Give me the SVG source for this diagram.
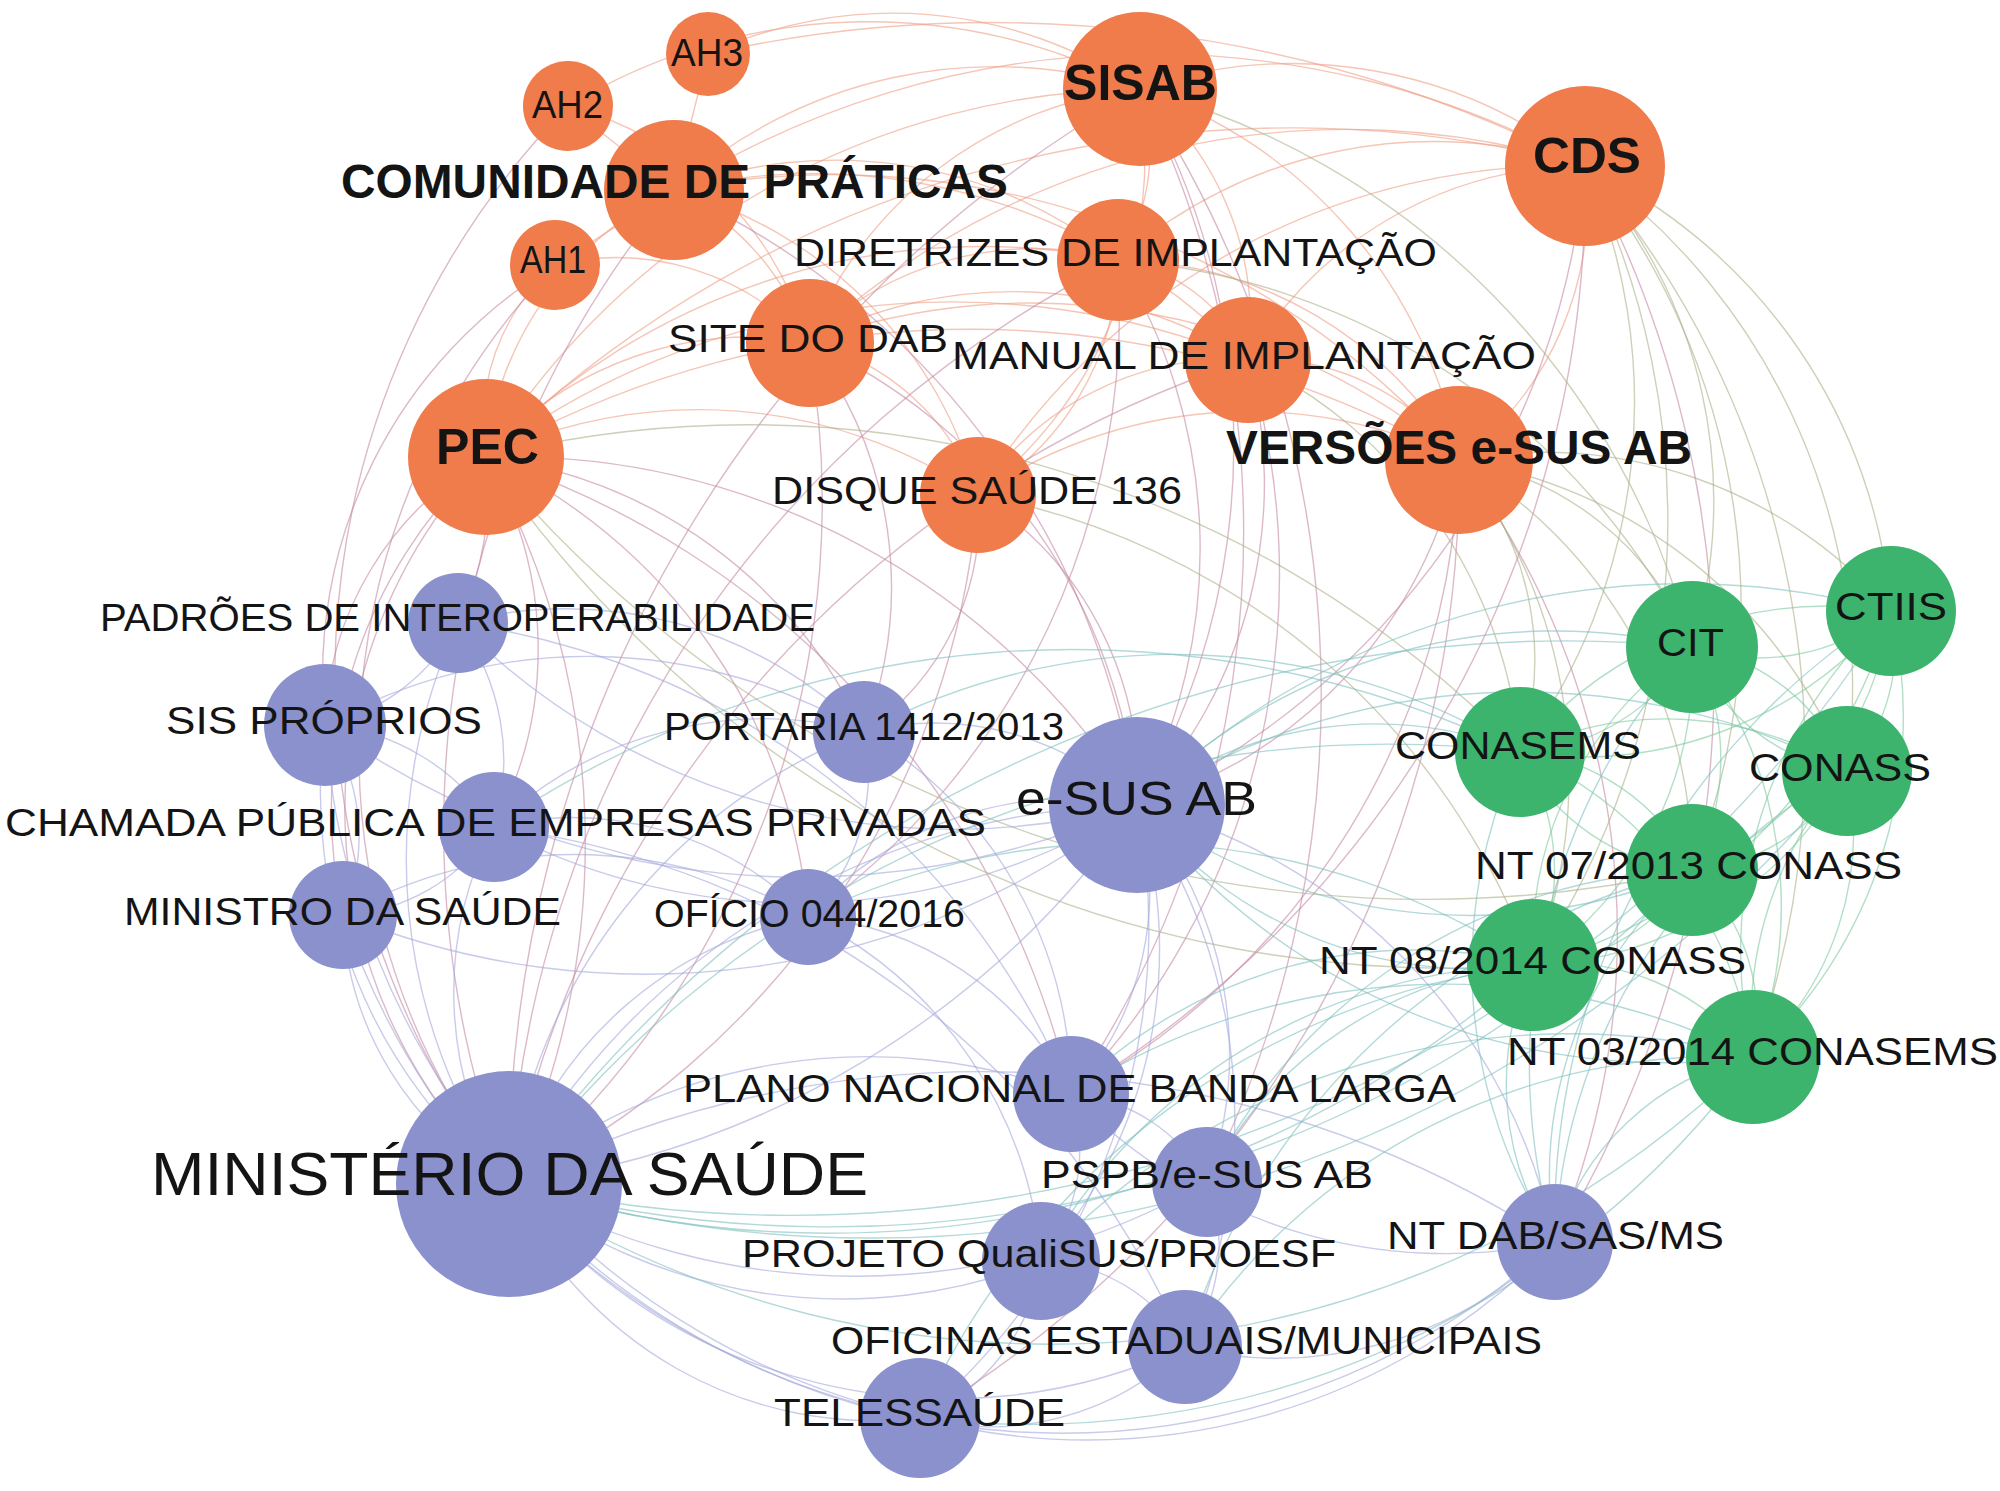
<svg xmlns="http://www.w3.org/2000/svg" width="2000" height="1491" viewBox="0 0 2000 1491">
<style>
.bg{fill:#ffffff}
.e{fill:none;stroke-width:1.4;stroke-opacity:0.6}
.eo{stroke:#ee9f86}
.eob{stroke:#c58aa5}
.eog{stroke:#aeb08a}
.eb{stroke:#a3a8da}
.ebg{stroke:#80c0c0}
.eg{stroke:#7fcaa0}
.no{fill:#f07b4b}
.nb{fill:#8a91cc}
.ng{fill:#3cb46e}
text{font-family:"Liberation Sans",Arial,Helvetica,sans-serif;fill:#141414}
.t{font-size:39px}
.tb{font-size:48px;font-weight:bold}
.tB{font-size:50px;font-weight:bold}
</style>
<rect class="bg" x="0" y="0" width="2000" height="1491"/>
<g id="edges">
<path class="e eo" d="M674 190 A480 480 0 0 1 1140 89"/>
<path class="e eo" d="M674 190 A900 900 0 0 1 1585 166"/>
<path class="e eo" d="M674 190 A450 450 0 0 1 1118 260"/>
<path class="e eo" d="M674 190 A600 600 0 0 1 1248 360"/>
<path class="e eo" d="M674 190 A830 830 0 0 1 1459 460"/>
<path class="e eo" d="M674 190 A260 260 0 0 1 808 342"/>
<path class="e eo" d="M486 457 A330 330 0 0 1 674 190"/>
<path class="e eo" d="M674 190 A430 430 0 0 1 978 495"/>
<path class="e eo" d="M555 265 L674 190"/>
<path class="e eo" d="M568 106 L674 190"/>
<path class="e eo" d="M708 54 L674 190"/>
<path class="e eo" d="M1140 89 A470 470 0 0 1 1585 166"/>
<path class="e eo" d="M1140 89 A200 200 0 0 1 1118 260"/>
<path class="e eo" d="M1140 89 A300 300 0 0 1 1248 360"/>
<path class="e eo" d="M1140 89 A480 480 0 0 1 1459 460"/>
<path class="e eo" d="M808 342 A400 400 0 0 1 1140 89"/>
<path class="e eo" d="M486 457 A780 780 0 0 1 1140 89"/>
<path class="e eo" d="M1140 89 A430 430 0 0 1 978 495"/>
<path class="e eo" d="M1118 260 A480 480 0 0 1 1585 166"/>
<path class="e eo" d="M1248 360 A390 390 0 0 1 1585 166"/>
<path class="e eo" d="M1585 166 A320 320 0 0 1 1459 460"/>
<path class="e eo" d="M808 342 A790 790 0 0 1 1585 166"/>
<path class="e eo" d="M486 457 A1150 1150 0 0 1 1585 166"/>
<path class="e eo" d="M978 495 A690 690 0 0 1 1585 166"/>
<path class="e eo" d="M1118 260 A170 170 0 0 1 1248 360"/>
<path class="e eo" d="M808 342 A320 320 0 0 1 1118 260"/>
<path class="e eo" d="M486 457 A690 690 0 0 1 1118 260"/>
<path class="e eo" d="M1118 260 A400 400 0 0 1 1459 460"/>
<path class="e eo" d="M808 342 A440 440 0 0 1 1248 360"/>
<path class="e eo" d="M486 457 A780 780 0 0 1 1248 360"/>
<path class="e eo" d="M1248 360 A240 240 0 0 1 1459 460"/>
<path class="e eo" d="M978 495 A300 300 0 0 1 1248 360"/>
<path class="e eo" d="M808 342 A660 660 0 0 1 1459 460"/>
<path class="e eo" d="M486 457 A980 980 0 0 1 1459 460"/>
<path class="e eo" d="M978 495 A480 480 0 0 1 1459 460"/>
<path class="e eo" d="M486 457 A350 350 0 0 1 808 342"/>
<path class="e eo" d="M808 342 A240 240 0 0 1 978 495"/>
<path class="e eo" d="M486 457 A500 500 0 0 1 978 495"/>
<path class="e eo" d="M555 265 A210 210 0 0 0 486 457"/>
<path class="e eo" d="M568 106 A580 580 0 0 1 1140 89"/>
<path class="e eo" d="M708 54 A440 440 0 0 1 1140 89"/>
<path class="e eo" d="M555 265 A260 260 0 0 1 808 342"/>
<path class="e eo" d="M708 54 A1300 1300 0 0 1 1585 166"/>
<path class="e eo" d="M568 106 A340 340 0 0 1 808 342"/>
<path class="e eo" d="M1118 260 A275 275 0 0 1 978 495"/>
<path class="e eob" d="M486 457 A740 740 0 0 1 1137 805"/>
<path class="e eob" d="M509 1184 A510 510 0 0 1 486 457"/>
<path class="e eob" d="M486 457 A300 300 0 0 1 458 623"/>
<path class="e eob" d="M325 725 A320 320 0 0 1 486 457"/>
<path class="e eob" d="M486 457 A380 380 0 0 1 494 827"/>
<path class="e eob" d="M343 915 A480 480 0 0 1 486 457"/>
<path class="e eob" d="M486 457 A480 480 0 0 1 864 732"/>
<path class="e eob" d="M1140 89 A720 720 0 0 1 1137 805"/>
<path class="e eob" d="M1585 166 A780 780 0 0 1 1137 805"/>
<path class="e eob" d="M1459 460 A460 460 0 0 1 1137 805"/>
<path class="e eob" d="M1118 260 A550 550 0 0 1 1137 805"/>
<path class="e eob" d="M1248 360 A470 470 0 0 1 1137 805"/>
<path class="e eob" d="M808 342 A560 560 0 0 1 1137 805"/>
<path class="e eob" d="M978 495 A340 340 0 0 1 1137 805"/>
<path class="e eob" d="M509 1184 A1000 1000 0 0 1 674 190"/>
<path class="e eob" d="M509 1184 A1250 1250 0 0 1 1140 89"/>
<path class="e eob" d="M509 1184 A1100 1100 0 0 1 1118 260"/>
<path class="e eob" d="M808 342 A400 400 0 0 1 864 732"/>
<path class="e eob" d="M978 495 A260 260 0 0 1 864 732"/>
<path class="e eob" d="M1248 360 A750 750 0 0 1 1071 1094"/>
<path class="e eob" d="M1140 89 A1000 1000 0 0 1 1071 1094"/>
<path class="e eob" d="M1585 166 A1080 1080 0 0 1 1555 1242"/>
<path class="e eob" d="M1459 460 A790 790 0 0 1 1555 1242"/>
<path class="e eob" d="M1118 260 A750 750 0 0 1 808 917"/>
<path class="e eob" d="M325 725 A480 480 0 0 1 555 265"/>
<path class="e eob" d="M674 190 A800 800 0 0 1 1137 805"/>
<path class="e eob" d="M1140 89 A1100 1100 0 0 1 1207 1182"/>
<path class="e eob" d="M509 1184 A1100 1100 0 0 1 1248 360"/>
<path class="e eob" d="M509 1184 A700 700 0 0 1 555 265"/>
<path class="e eob" d="M509 1184 A820 820 0 0 1 568 106"/>
<path class="e eob" d="M486 457 A800 800 0 0 1 509 1184"/>
<path class="e eob" d="M978 495 A840 840 0 0 1 509 1184"/>
<path class="e eob" d="M486 457 A560 560 0 0 1 808 917"/>
<path class="e eob" d="M486 457 A880 880 0 0 1 1071 1094"/>
<path class="e eob" d="M808 342 A900 900 0 0 1 509 1184"/>
<path class="e eob" d="M1585 166 A1060 1060 0 0 1 1071 1094"/>
<path class="e eob" d="M1459 460 A745 745 0 0 1 1071 1094"/>
<path class="e eob" d="M1459 460 A1100 1100 0 0 1 920 1418"/>
<path class="e eog" d="M1585 166 A500 500 0 0 1 1692 647"/>
<path class="e eog" d="M1585 166 A540 540 0 0 1 1891 611"/>
<path class="e eog" d="M1585 166 A590 590 0 0 1 1520 752"/>
<path class="e eog" d="M1585 166 A640 640 0 0 1 1847 771"/>
<path class="e eog" d="M1459 460 A300 300 0 0 1 1692 647"/>
<path class="e eog" d="M1459 460 A300 300 0 0 1 1520 752"/>
<path class="e eog" d="M1459 460 A470 470 0 0 1 1692 870"/>
<path class="e eog" d="M1140 89 A780 780 0 0 1 1692 647"/>
<path class="e eog" d="M1248 360 A480 480 0 0 1 1520 752"/>
<path class="e eog" d="M1533 965 A1160 1160 0 0 1 486 457"/>
<path class="e eog" d="M486 457 A1075 1075 0 0 1 1520 752"/>
<path class="e eog" d="M1585 166 A900 900 0 0 1 1753 1057"/>
<path class="e eog" d="M1118 260 A700 700 0 0 1 1692 647"/>
<path class="e eog" d="M978 495 A730 730 0 0 1 1533 965"/>
<path class="e eog" d="M1585 166 A710 710 0 0 1 1692 870"/>
<path class="e eog" d="M1692 870 A1220 1220 0 0 1 486 457"/>
<path class="e eog" d="M1585 166 A800 800 0 0 1 1533 965"/>
<path class="e eog" d="M1459 460 A510 510 0 0 1 1533 965"/>
<path class="e eog" d="M1459 460 A500 500 0 0 1 1847 771"/>
<path class="e eog" d="M1459 460 A460 460 0 0 1 1891 611"/>
<path class="e eb" d="M509 1184 A565 565 0 0 1 458 623"/>
<path class="e eb" d="M509 1184 A500 500 0 0 1 325 725"/>
<path class="e eb" d="M509 1184 A360 360 0 0 1 494 827"/>
<path class="e eb" d="M509 1184 A320 320 0 0 1 343 915"/>
<path class="e eb" d="M509 1184 A560 560 0 0 1 864 732"/>
<path class="e eb" d="M509 1184 A390 390 0 0 1 808 917"/>
<path class="e eb" d="M509 1184 A730 730 0 0 1 1137 805"/>
<path class="e eb" d="M1137 805 A900 900 0 0 1 509 1184"/>
<path class="e eb" d="M509 1184 A570 570 0 0 1 1071 1094"/>
<path class="e eb" d="M1207 1182 A700 700 0 0 1 509 1184"/>
<path class="e eb" d="M1041 1261 A540 540 0 0 1 509 1184"/>
<path class="e eb" d="M1555 1242 A735 735 0 0 1 509 1184"/>
<path class="e eb" d="M1185 1347 A560 560 0 0 1 509 1184"/>
<path class="e eb" d="M920 1418 A400 400 0 0 1 509 1184"/>
<path class="e eb" d="M1137 805 A700 700 0 0 1 458 623"/>
<path class="e eb" d="M1137 805 A820 820 0 0 1 325 725"/>
<path class="e eb" d="M1137 805 A640 640 0 0 1 494 827"/>
<path class="e eb" d="M1137 805 A800 800 0 0 1 343 915"/>
<path class="e eb" d="M864 732 A290 290 0 0 1 1137 805"/>
<path class="e eb" d="M808 917 A350 350 0 0 1 1137 805"/>
<path class="e eb" d="M1137 805 A300 300 0 0 1 1071 1094"/>
<path class="e eb" d="M1137 805 A380 380 0 0 1 1207 1182"/>
<path class="e eb" d="M1137 805 A470 470 0 0 1 1041 1261"/>
<path class="e eb" d="M1137 805 A570 570 0 0 1 1555 1242"/>
<path class="e eb" d="M1137 805 A550 550 0 0 1 1185 1347"/>
<path class="e eb" d="M1137 805 A640 640 0 0 1 920 1418"/>
<path class="e eb" d="M458 623 A200 200 0 0 1 325 725"/>
<path class="e eb" d="M458 623 A230 230 0 0 1 494 827"/>
<path class="e eb" d="M325 725 A220 220 0 0 1 494 827"/>
<path class="e eb" d="M325 725 A200 200 0 0 1 343 915"/>
<path class="e eb" d="M494 827 A190 190 0 0 1 343 915"/>
<path class="e eb" d="M343 915 A470 470 0 0 1 808 917"/>
<path class="e eb" d="M864 732 A200 200 0 0 1 808 917"/>
<path class="e eb" d="M1071 1094 A170 170 0 0 1 1207 1182"/>
<path class="e eb" d="M1071 1094 A180 180 0 0 1 1041 1261"/>
<path class="e eb" d="M1207 1182 A170 170 0 0 1 1185 1347"/>
<path class="e eb" d="M1041 1261 A170 170 0 0 1 1185 1347"/>
<path class="e eb" d="M1041 1261 A200 200 0 0 1 920 1418"/>
<path class="e eb" d="M1185 1347 A280 280 0 0 1 920 1418"/>
<path class="e eb" d="M1555 1242 A390 390 0 0 1 1185 1347"/>
<path class="e eb" d="M1555 1242 A650 650 0 0 1 920 1418"/>
<path class="e eb" d="M1555 1242 A520 520 0 0 1 1071 1094"/>
<path class="e eb" d="M920 1418 A760 760 0 0 1 343 915"/>
<path class="e eb" d="M920 1418 A760 760 0 0 1 325 725"/>
<path class="e eb" d="M458 623 A780 780 0 0 1 1071 1094"/>
<path class="e eb" d="M494 827 A870 870 0 0 1 1185 1347"/>
<path class="e eb" d="M458 623 A420 420 0 0 1 864 732"/>
<path class="e eb" d="M325 725 A540 540 0 0 1 864 732"/>
<path class="e eb" d="M494 827 A390 390 0 0 1 864 732"/>
<path class="e eb" d="M494 827 A330 330 0 0 1 808 917"/>
<path class="e eb" d="M509 1184 A1050 1050 0 0 1 1555 1242"/>
<path class="e eb" d="M808 917 A320 320 0 0 1 1071 1094"/>
<path class="e eb" d="M808 917 A420 420 0 0 1 1041 1261"/>
<path class="e eb" d="M864 732 A420 420 0 0 1 1071 1094"/>
<path class="e ebg" d="M509 1184 A1100 1100 0 0 1 1520 752"/>
<path class="e ebg" d="M1533 965 A1060 1060 0 0 1 509 1184"/>
<path class="e ebg" d="M1753 1057 A1000 1000 0 0 1 509 1184"/>
<path class="e ebg" d="M509 1184 A1300 1300 0 0 1 1692 647"/>
<path class="e ebg" d="M1692 870 A1220 1220 0 0 1 509 1184"/>
<path class="e ebg" d="M1137 805 A390 390 0 0 1 1520 752"/>
<path class="e ebg" d="M1137 805 A590 590 0 0 1 1692 647"/>
<path class="e ebg" d="M1137 805 A710 710 0 0 1 1847 771"/>
<path class="e ebg" d="M1692 870 A560 560 0 0 1 1137 805"/>
<path class="e ebg" d="M1533 965 A430 430 0 0 1 1137 805"/>
<path class="e ebg" d="M1753 1057 A670 670 0 0 1 1137 805"/>
<path class="e ebg" d="M1137 805 A790 790 0 0 1 1891 611"/>
<path class="e ebg" d="M1555 1242 A280 280 0 0 1 1533 965"/>
<path class="e ebg" d="M1555 1242 A260 260 0 0 1 1753 1057"/>
<path class="e ebg" d="M1555 1242 A400 400 0 0 1 1692 870"/>
<path class="e ebg" d="M1555 1242 A560 560 0 0 1 1847 771"/>
<path class="e ebg" d="M1555 1242 A620 620 0 0 1 1692 647"/>
<path class="e ebg" d="M1555 1242 A720 720 0 0 1 1891 611"/>
<path class="e ebg" d="M1555 1242 A500 500 0 0 1 1520 752"/>
<path class="e ebg" d="M1071 1094 A480 480 0 0 1 1533 965"/>
<path class="e ebg" d="M1071 1094 A690 690 0 0 1 1753 1057"/>
<path class="e ebg" d="M1207 1182 A400 400 0 0 1 1533 965"/>
<path class="e ebg" d="M1041 1261 A730 730 0 0 1 1753 1057"/>
<path class="e ebg" d="M1185 1347 A700 700 0 0 1 1692 870"/>
<path class="e ebg" d="M920 1418 A770 770 0 0 1 1533 965"/>
<path class="e ebg" d="M864 732 A660 660 0 0 1 1520 752"/>
<path class="e ebg" d="M494 827 A1030 1030 0 0 1 1520 752"/>
<path class="e ebg" d="M808 917 A730 730 0 0 1 1533 965"/>
<path class="e ebg" d="M1847 771 A1250 1250 0 0 1 509 1184"/>
<path class="e ebg" d="M1891 611 A1300 1300 0 0 1 509 1184"/>
<path class="e ebg" d="M1753 1057 A900 900 0 0 1 920 1418"/>
<path class="e ebg" d="M1185 1347 A640 640 0 0 1 1753 1057"/>
<path class="e ebg" d="M1041 1261 A575 575 0 0 1 1533 965"/>
<path class="e ebg" d="M1207 1182 A560 560 0 0 1 1692 870"/>
<path class="e eg" d="M1891 611 A210 210 0 0 1 1692 647"/>
<path class="e eg" d="M1891 611 A400 400 0 0 1 1520 752"/>
<path class="e eg" d="M1891 611 A180 180 0 0 1 1847 771"/>
<path class="e eg" d="M1891 611 A330 330 0 0 1 1692 870"/>
<path class="e eg" d="M1891 611 A510 510 0 0 1 1533 965"/>
<path class="e eg" d="M1891 611 A460 460 0 0 1 1753 1057"/>
<path class="e eg" d="M1692 647 A210 210 0 0 1 1520 752"/>
<path class="e eg" d="M1692 647 A200 200 0 0 1 1847 771"/>
<path class="e eg" d="M1692 647 A230 230 0 0 1 1692 870"/>
<path class="e eg" d="M1692 647 A360 360 0 0 1 1533 965"/>
<path class="e eg" d="M1692 647 A420 420 0 0 1 1753 1057"/>
<path class="e eg" d="M1520 752 A340 340 0 0 1 1847 771"/>
<path class="e eg" d="M1520 752 A210 210 0 0 1 1692 870"/>
<path class="e eg" d="M1520 752 A220 220 0 0 1 1533 965"/>
<path class="e eg" d="M1520 752 A390 390 0 0 1 1753 1057"/>
<path class="e eg" d="M1847 771 A190 190 0 0 1 1692 870"/>
<path class="e eg" d="M1847 771 A370 370 0 0 1 1533 965"/>
<path class="e eg" d="M1847 771 A300 300 0 0 1 1753 1057"/>
<path class="e eg" d="M1692 870 A190 190 0 0 1 1533 965"/>
<path class="e eg" d="M1692 870 A200 200 0 0 1 1753 1057"/>
<path class="e eg" d="M1533 965 A240 240 0 0 1 1753 1057"/>
<path class="e eg" d="M1753 1057 A460 460 0 0 1 1891 611"/>
<path class="e eg" d="M1533 965 A360 360 0 0 1 1692 647"/>
<path class="e eg" d="M1692 870 A210 210 0 0 1 1520 752"/>
<path class="e eg" d="M1847 771 A200 200 0 0 1 1692 647"/>
<path class="e eg" d="M1520 752 A400 400 0 0 1 1891 611"/>
<path class="e eg" d="M1753 1057 A370 370 0 0 1 1847 771"/>
</g>
<g id="node-ah3"><circle class="no" cx="708" cy="54" r="42"/><text class="t" x="671" y="66" font-size="38" textLength="72" lengthAdjust="spacingAndGlyphs">AH3</text></g>
<g id="node-ah2"><circle class="no" cx="568" cy="106" r="45"/><text class="t" x="532" y="118" font-size="38" textLength="71" lengthAdjust="spacingAndGlyphs">AH2</text></g>
<g id="node-ah1"><circle class="no" cx="555" cy="265" r="45"/><text class="t" x="520" y="273" font-size="38" textLength="66" lengthAdjust="spacingAndGlyphs">AH1</text></g>
<g id="node-comunidade"><circle class="no" cx="674" cy="190" r="70"/><text class="tb" x="341" y="198" textLength="667" lengthAdjust="spacingAndGlyphs">COMUNIDADE DE PRÁTICAS</text></g>
<g id="node-sisab"><circle class="no" cx="1140" cy="89" r="77"/><text class="tB" x="1064" y="100" textLength="153" lengthAdjust="spacingAndGlyphs">SISAB</text></g>
<g id="node-cds"><circle class="no" cx="1585" cy="166" r="80"/><text class="tB" x="1533" y="173" textLength="108" lengthAdjust="spacingAndGlyphs">CDS</text></g>
<g id="node-diretrizes"><circle class="no" cx="1118" cy="260" r="61"/><text class="t" x="794" y="266" textLength="643" lengthAdjust="spacingAndGlyphs">DIRETRIZES DE IMPLANTAÇÃO</text></g>
<g id="node-site"><circle class="no" cx="810" cy="343" r="64"/><text class="t" x="668" y="352" textLength="280" lengthAdjust="spacingAndGlyphs">SITE DO DAB</text></g>
<g id="node-manual"><circle class="no" cx="1248" cy="360" r="63"/><text class="t" x="952" y="369" textLength="584" lengthAdjust="spacingAndGlyphs">MANUAL DE IMPLANTAÇÃO</text></g>
<g id="node-pec"><circle class="no" cx="486" cy="457" r="78"/><text class="tB" x="436" y="464" textLength="103" lengthAdjust="spacingAndGlyphs">PEC</text></g>
<g id="node-disque"><circle class="no" cx="978" cy="495" r="58"/><text class="t" x="772" y="504" textLength="410" lengthAdjust="spacingAndGlyphs">DISQUE SAÚDE 136</text></g>
<g id="node-versoes"><circle class="no" cx="1459" cy="460" r="74"/><text class="tb" x="1226" y="464" textLength="466" lengthAdjust="spacingAndGlyphs">VERSÕES e-SUS AB</text></g>
<g id="node-padroes"><circle class="nb" cx="458" cy="623" r="50"/><text class="t" x="100" y="631" textLength="715" lengthAdjust="spacingAndGlyphs">PADRÕES DE INTEROPERABILIDADE</text></g>
<g id="node-sis"><circle class="nb" cx="325" cy="725" r="61"/><text class="t" x="166" y="734" textLength="316" lengthAdjust="spacingAndGlyphs">SIS PRÓPRIOS</text></g>
<g id="node-portaria"><circle class="nb" cx="864" cy="732" r="51"/><text class="t" x="664" y="740" textLength="400" lengthAdjust="spacingAndGlyphs">PORTARIA 1412/2013</text></g>
<g id="node-esus"><circle class="nb" cx="1137" cy="805" r="88"/><text x="1016" y="815" font-size="48" textLength="241" lengthAdjust="spacingAndGlyphs">e-SUS AB</text></g>
<g id="node-chamada"><circle class="nb" cx="494" cy="827" r="55"/><text class="t" x="5" y="836" textLength="981" lengthAdjust="spacingAndGlyphs">CHAMADA PÚBLICA DE EMPRESAS PRIVADAS</text></g>
<g id="node-ministro"><circle class="nb" cx="343" cy="915" r="54"/><text class="t" x="124" y="925" textLength="437" lengthAdjust="spacingAndGlyphs">MINISTRO DA SAÚDE</text></g>
<g id="node-oficio"><circle class="nb" cx="808" cy="917" r="48"/><text class="t" x="654" y="927" textLength="311" lengthAdjust="spacingAndGlyphs">OFÍCIO 044/2016</text></g>
<g id="node-ministerio"><circle class="nb" cx="509" cy="1184" r="113"/><text x="151" y="1195" font-size="61" textLength="717" lengthAdjust="spacingAndGlyphs">MINISTÉRIO DA SAÚDE</text></g>
<g id="node-plano"><circle class="nb" cx="1071" cy="1094" r="58"/><text class="t" x="683" y="1102" textLength="773" lengthAdjust="spacingAndGlyphs">PLANO NACIONAL DE BANDA LARGA</text></g>
<g id="node-pspb"><circle class="nb" cx="1207" cy="1182" r="55"/><text class="t" x="1041" y="1188" textLength="332" lengthAdjust="spacingAndGlyphs">PSPB/e-SUS AB</text></g>
<g id="node-projeto"><circle class="nb" cx="1041" cy="1261" r="59"/><text class="t" x="742" y="1267" textLength="594" lengthAdjust="spacingAndGlyphs">PROJETO QualiSUS/PROESF</text></g>
<g id="node-ntdab"><circle class="nb" cx="1555" cy="1242" r="58"/><text class="t" x="1387" y="1249" textLength="337" lengthAdjust="spacingAndGlyphs">NT DAB/SAS/MS</text></g>
<g id="node-oficinas"><circle class="nb" cx="1185" cy="1347" r="57"/><text class="t" x="831" y="1354" textLength="711" lengthAdjust="spacingAndGlyphs">OFICINAS ESTADUAIS/MUNICIPAIS</text></g>
<g id="node-telessaude"><circle class="nb" cx="920" cy="1418" r="60"/><text class="t" x="774" y="1426" textLength="291" lengthAdjust="spacingAndGlyphs">TELESSAÚDE</text></g>
<g id="node-ctiis"><circle class="ng" cx="1891" cy="611" r="65"/><text class="t" x="1835" y="620" textLength="112" lengthAdjust="spacingAndGlyphs">CTIIS</text></g>
<g id="node-cit"><circle class="ng" cx="1692" cy="647" r="66"/><text class="t" x="1657" y="656" textLength="67" lengthAdjust="spacingAndGlyphs">CIT</text></g>
<g id="node-conasems"><circle class="ng" cx="1520" cy="752" r="65"/><text class="t" x="1395" y="759" textLength="246" lengthAdjust="spacingAndGlyphs">CONASEMS</text></g>
<g id="node-conass"><circle class="ng" cx="1847" cy="771" r="65"/><text class="t" x="1749" y="781" textLength="182" lengthAdjust="spacingAndGlyphs">CONASS</text></g>
<g id="node-nt07"><circle class="ng" cx="1692" cy="870" r="66"/><text class="t" x="1475" y="879" textLength="427" lengthAdjust="spacingAndGlyphs">NT 07/2013 CONASS</text></g>
<g id="node-nt08"><circle class="ng" cx="1533" cy="965" r="66"/><text class="t" x="1319" y="974" textLength="427" lengthAdjust="spacingAndGlyphs">NT 08/2014 CONASS</text></g>
<g id="node-nt03"><circle class="ng" cx="1753" cy="1057" r="67"/><text class="t" x="1507" y="1065" textLength="491" lengthAdjust="spacingAndGlyphs">NT 03/2014 CONASEMS</text></g>
</svg>
